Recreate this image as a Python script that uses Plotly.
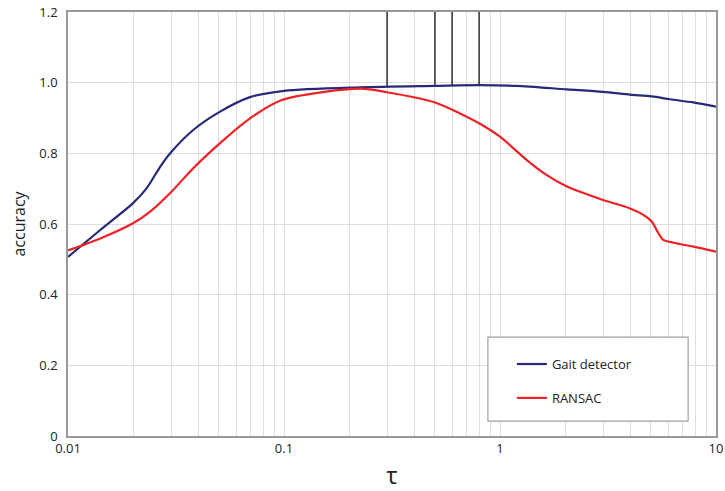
import numpy as np
import plotly.graph_objects as go

# ---- data ----
tau_gait = [0.01, 0.0141, 0.02, 0.0231, 0.0267, 0.0302, 0.038, 0.0506, 0.0696, 0.1, 0.225,
            0.5, 0.8, 1.19, 2.04, 3.0, 4.0, 5.04, 6.12, 7.85, 10.0]
acc_gait = [0.507, 0.583, 0.659, 0.701, 0.762, 0.805, 0.866, 0.918, 0.959, 0.977, 0.987,
            0.991, 0.993, 0.991, 0.981, 0.974, 0.966, 0.961, 0.953, 0.944, 0.932]

tau_ransac = [0.01, 0.0141, 0.02, 0.024, 0.0302, 0.038, 0.0506, 0.0696, 0.0977, 0.225,
              0.3, 0.5, 0.653, 0.8, 1.0, 1.33, 1.64, 2.04, 3.0, 4.0, 4.61, 5.04, 5.41,
              5.70, 6.35, 7.85, 10.0]
acc_ransac = [0.525, 0.559, 0.602, 0.635, 0.692, 0.758, 0.829, 0.899, 0.951, 0.983,
              0.973, 0.944, 0.913, 0.885, 0.847, 0.781, 0.739, 0.706, 0.668, 0.644, 0.626,
              0.607, 0.574, 0.555, 0.547, 0.536, 0.522]

marker_tau = [0.3, 0.5, 0.6, 0.8]
y_top = 1.2

x_tick_vals = [0.01, 0.1, 1, 10]
x_tick_text = ["0.01", "0.1", "1", "10"]
y_tick_vals = [0, 0.2, 0.4, 0.6, 0.8, 1.0, 1.2]
y_tick_text = ["0", "0.2", "0.4", "0.6", "0.8", "1.0", "1.2"]

# ---- figure ----
fig = go.Figure()

# vertical marker lines from top of the plot down to the Gait detector curve
marker_bottom = np.interp(np.log10(marker_tau), np.log10(tau_gait), acc_gait)
for t, b in zip(marker_tau, marker_bottom):
    fig.add_trace(go.Scatter(x=[t, t], y=[b, y_top], mode="lines",
                             line=dict(color="black", width=1.2),
                             showlegend=False, hoverinfo="skip"))

fig.add_trace(go.Scatter(x=tau_gait, y=acc_gait, mode="lines", name="Gait detector",
                         line=dict(color="#262a78", width=2.2, shape="spline", smoothing=0.8),
                         legendgroup="a"))
fig.add_trace(go.Scatter(x=tau_ransac, y=acc_ransac, mode="lines", name="RANSAC",
                         line=dict(color="#ee2126", width=2.2, shape="spline", smoothing=0.8),
                         legendgroup="b"))

# all grid positions (1..9 per decade) for log grid
grid_vals = []
for d in [0.01, 0.1, 1]:
    for m in range(1, 10):
        grid_vals.append(d * m)
grid_vals.append(10)
grid_text = []
for v in grid_vals:
    lab = ""
    for tv, tt in zip(x_tick_vals, x_tick_text):
        if abs(v - tv) < 1e-9:
            lab = tt
    grid_text.append(lab)

font_family = "Open Sans, Noto Sans, sans-serif"

fig.update_layout(
    width=725, height=491,
    margin=dict(l=68, r=9, t=12, b=55),
    plot_bgcolor="white", paper_bgcolor="white",
    font=dict(family=font_family, size=13, color="#222"),
    showlegend=True,
    legend=dict(x=0.685, y=0.205, xanchor="left", yanchor="top",
                bgcolor="rgba(0,0,0,0)", borderwidth=0,
                tracegroupgap=14, itemwidth=30,
                font=dict(size=13, color="#222")),
    shapes=[dict(type="rect", xref="paper", yref="paper",
                 x0=0.648, x1=0.957, y0=0.035, y1=0.233,
                 line=dict(color="#a0a0a0", width=1.2), fillcolor="white", layer="above")],
)

fig.update_xaxes(type="log", range=[-2, 1],
                 tickvals=grid_vals, ticktext=grid_text,
                 showgrid=True, gridcolor="#dedede", gridwidth=1,
                 showline=True, linecolor="#999999", linewidth=1.5, mirror=True,
                 ticks="", tickfont=dict(size=13), automargin=False,
                 title=dict(text="τ", font=dict(size=24), standoff=14),
                 zeroline=False)
fig.update_yaxes(range=[0, 1.2],
                 tickvals=y_tick_vals, ticktext=y_tick_text,
                 showgrid=True, gridcolor="#dedede", gridwidth=1,
                 showline=True, linecolor="#999999", linewidth=1.5, mirror=True,
                 ticks="", tickfont=dict(size=13), automargin=False,
                 ticklabelstandoff=6,
                 title=dict(text="accuracy", font=dict(size=16), standoff=10),
                 zeroline=False)

fig.write_html("out.html")
